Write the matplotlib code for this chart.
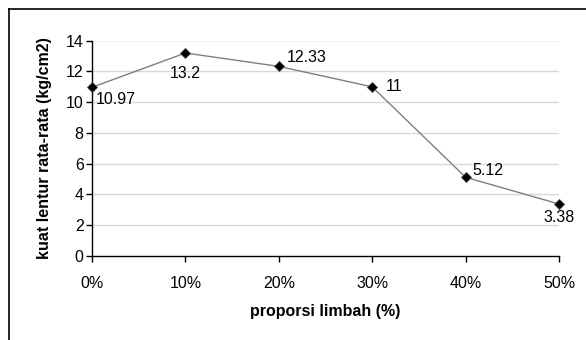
import matplotlib
matplotlib.use("Agg")
import matplotlib.pyplot as plt
from matplotlib.lines import Line2D

plt.rcParams['font.family'] = ['Liberation Sans', 'DejaVu Sans']

categories = ["0%", "10%", "20%", "30%", "40%", "50%"]
values = [10.97, 13.2, 12.33, 11, 5.12, 3.38]
labels = ["10.97", "13.2", "12.33", "11", "5.12", "3.38"]
yticks = [0, 2, 4, 6, 8, 10, 12, 14]

FS = 11.5
fig = plt.figure(figsize=(5.86, 3.40), dpi=100)
ax = fig.add_axes([92/586, 1-256/340, (559-92)/586, (256-40.7)/340])

x = list(range(len(categories)))
ax.plot(x, values, color='#7f7f7f', lw=1.0, marker='D', markersize=4.8,
        markerfacecolor='black', markeredgecolor='#404040', markeredgewidth=0.6, zorder=3, clip_on=False)

# label offsets in points (dx, dy, ha, va)
offs = [(3, -8.5, 'left', 'center'), (0, -15, 'center', 'center'), (6, 6.5, 'left', 'center'),
        (10, 0, 'left', 'center'), (5, 5, 'left', 'center'), (0, -10, 'center', 'center')]
for xi, v, lab, (dx, dy, ha, va) in zip(x, values, labels, offs):
    ax.annotate(lab, (xi, v), xytext=(dx, dy), textcoords='offset points',
                ha=ha, va=va, fontsize=FS, color='black')

ax.set_xlim(0, 5)
ax.set_ylim(0, 14)
ax.set_xticks(x)
ax.set_xticklabels(categories, fontsize=FS)
ax.set_yticks(yticks)
ax.set_yticklabels([str(t) for t in yticks], fontsize=FS)
ax.tick_params(axis='x', direction='out', length=4, width=1, pad=10.5)
ax.tick_params(axis='y', direction='out', length=4, width=1, pad=2)
for yt in yticks[1:]:
    ax.axhline(yt, color='#d9d9d9' if yt < 14 else '#f0f0f0', lw=1.0, zorder=1)
ax.spines['top'].set_visible(False)
ax.spines['right'].set_visible(False)
ax.spines['left'].set_linewidth(1.0)
ax.spines['bottom'].set_linewidth(1.0)

ax.set_ylabel("kuat lentur rata-rata (kg/cm2)", fontsize=FS, fontweight='bold', labelpad=10)
ax.set_xlabel("proporsi limbah (%)", fontsize=FS, fontweight='bold', labelpad=9.5)

# outer frame (top and left edges)
fig.add_artist(Line2D([9/586, 1.0], [1-9/340, 1-9/340], color='black', lw=1.2, transform=fig.transFigure))
fig.add_artist(Line2D([9/586, 9/586], [0, 1-9/340], color='black', lw=1.2, transform=fig.transFigure))

fig.savefig("out.png", dpi=100)
